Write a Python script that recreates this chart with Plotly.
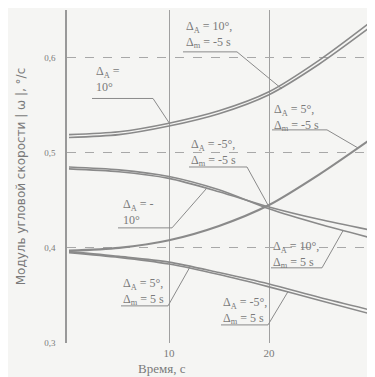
import plotly.graph_objects as go

# ---- data ----
time_s = [0, 5, 10, 15, 20, 25, 30]

# top pair (double line)
top_a = [0.516, 0.519, 0.528, 0.541, 0.561, 0.593, 0.631]
top_b = [0.519, 0.522, 0.531, 0.544, 0.564, 0.597, 0.636]
# rising curve from 0.40
rise = [0.397, 0.400, 0.408, 0.423, 0.445, 0.477, 0.513]
# upper descending pair
desc_up_a = [0.483, 0.480, 0.473, 0.459, 0.443, 0.430, 0.419]
desc_up_b = [0.485, 0.482, 0.475, 0.461, 0.441, 0.425, 0.411]
# lower descending pair
desc_lo_a = [0.396, 0.391, 0.385, 0.374, 0.362, 0.348, 0.335]
desc_lo_b = [0.395, 0.390, 0.383, 0.372, 0.359, 0.345, 0.331]

y_ticks = [0.3, 0.4, 0.5, 0.6]
y_tick_text = ["0,3", "0,4", "0,5", "0,6"]
x_ticks = [10, 20]
x_tick_text = ["10", "20"]

labels = [
    "Δ<sub>A</sub> = 10°,<br>Δ<sub>m</sub> = -5 s",
    "Δ<sub>A</sub> =<br>10°",
    "Δ<sub>A</sub> = -5°,<br>Δ<sub>m</sub> = -5 s",
    "Δ<sub>A</sub> = 5°,<br>Δ<sub>m</sub> = -5 s",
    "Δ<sub>A</sub> = -<br>10°",
    "Δ<sub>A</sub> = 10°,<br>Δ<sub>m</sub> = 5 s",
    "Δ<sub>A</sub> = 5°,<br>Δ<sub>m</sub> = 5 s",
    "Δ<sub>A</sub> = -5°,<br>Δ<sub>m</sub> = 5 s",
]

LINE = "#8a8a8a"
TXT = "#7a7a7a"
BG = "#f5f5f3"
FONT = "Liberation Serif, DejaVu Serif, serif"

fig = go.Figure()
for ys, w in [(top_a, 1.6), (top_b, 1.6), (rise, 2.2),
              (desc_up_a, 1.6), (desc_up_b, 1.6),
              (desc_lo_a, 1.6), (desc_lo_b, 1.6)]:
    fig.add_trace(go.Scatter(x=time_s, y=ys, mode="lines",
                             line=dict(color=LINE, width=w, shape="spline", smoothing=0.8),
                             hoverinfo="skip", showlegend=False))

# label placement: (text x-left, y-center, underline x0, x1, y, leader end x, y)
place = [
    (11.5, 0.624, 11.4, 16.8, 0.606, 21.3, 0.567),
    (2.5, 0.578, 2.3, 8.4, 0.557, 10.1, 0.530),
    (12.0, 0.500, 12.0, 17.8, 0.485, 19.9, 0.445),
    (20.3, 0.537, 20.3, 25.8, 0.524, 28.9, 0.505),
    (5.2, 0.438, 4.9, 10.3, 0.421, 13.8, 0.463),
    (20.2, 0.393, 20.2, 25.3, 0.379, 27.4, 0.418),
    (5.2, 0.354, 5.2, 9.9, 0.339, 12.1, 0.380),
    (15.2, 0.334, 15.2, 19.9, 0.319, 21.9, 0.354),
]
for txt, (tx, ty, ux0, ux1, uy, lx, ly) in zip(labels, place):
    fig.add_annotation(x=tx, y=ty, xref="x", yref="y", text=txt, showarrow=False,
                       xanchor="left", yanchor="middle", align="left",
                       font=dict(family=FONT, size=12, color=TXT))
    fig.add_shape(type="line", x0=ux0, x1=ux1, y0=uy, y1=uy, xref="x", yref="y",
                  line=dict(color=LINE, width=1))
    fig.add_shape(type="line", x0=ux1, x1=lx, y0=uy, y1=ly, xref="x", yref="y",
                  line=dict(color=LINE, width=1))

# right border
fig.add_shape(type="line", x0=1, x1=1, y0=0, y1=0.97, xref="paper", yref="paper",
              line=dict(color="#b0b0b0", width=1, dash="dash"))

fig.add_annotation(x=9.3, y=-0.047, xref="x", yref="paper", text="Время, с",
                   showarrow=False, font=dict(family=FONT, size=13, color=TXT),
                   xanchor="center", yanchor="top")

# the page body has an 8px default margin; margins compensate for it
fig.update_layout(
    width=375, height=377,
    margin=dict(l=59, r=13, t=2, b=42, autoexpand=False),
    paper_bgcolor=BG, plot_bgcolor=BG,
    xaxis=dict(range=[-0.2, 30.1], tickvals=x_ticks, ticktext=x_tick_text,
               showgrid=True, gridcolor="#a0a0a0", gridwidth=1.2,
               zeroline=False, showline=False, ticks="", ticklabelstandoff=2,
               tickfont=dict(family=FONT, size=11, color=TXT)),
    yaxis=dict(range=[0.3, 0.65], tickvals=y_ticks, ticktext=y_tick_text,
               showgrid=True, gridcolor="#a8a8a8", griddash="dash", gridwidth=1,
               zeroline=False, showline=True, linecolor="#999999", linewidth=1.5,
               ticks="", ticklabelstandoff=8,
               tickfont=dict(family=FONT, size=9, color=TXT),
               title=dict(text="Модуль угловой скорости | ω |, °/с", standoff=16,
                          font=dict(family="DejaVu Sans, sans-serif", size=12, color=TXT))),
)

fig.write_html("out.html")
